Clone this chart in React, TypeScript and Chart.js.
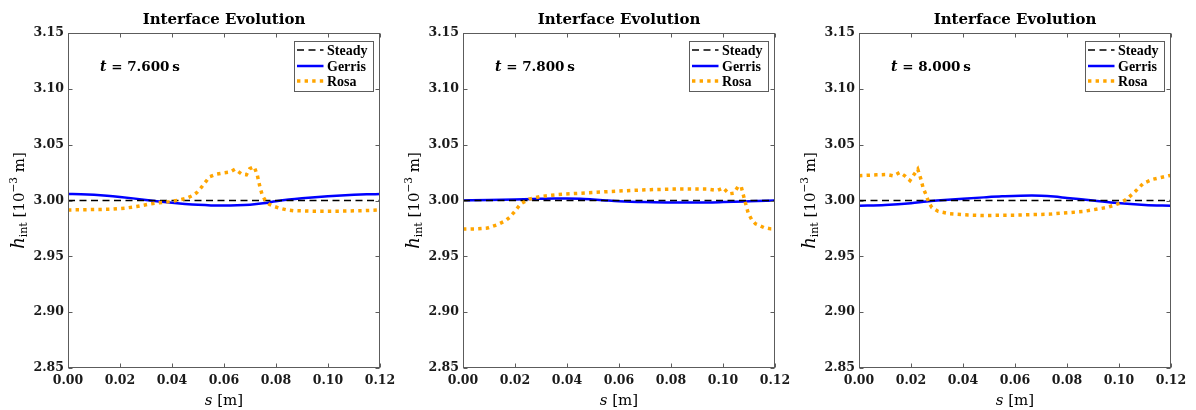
import { useEffect, useRef } from "react";
import { Chart, registerables } from "chart.js";

Chart.register(...registerables);

// ---------- data ----------
const seriesLabels = ["Steady", "Gerris", "Rosa"];
const times = ["7.600", "7.800", "8.000"];
const xTickStep = 0.02;
const yTickStep = 0.05;
const xMin = 0;
const xMax = 0.12;
const yMin = 2.85;
const yMax = 3.15;

const steadyS = [0, 0.12];
const steadyH = [3.0, 3.0];

// t = 7.600 s
const gerrisS1 = [0, 0.005, 0.01, 0.015, 0.02, 0.025, 0.03, 0.035, 0.04, 0.045, 0.05, 0.055, 0.06, 0.065, 0.07, 0.075, 0.08, 0.085, 0.09, 0.095, 0.1, 0.105, 0.11, 0.115, 0.12];
const gerrisH1 = [3.0058, 3.0056, 3.0051, 3.0043, 3.0032, 3.0019, 3.0005, 2.9991, 2.9979, 2.9969, 2.9961, 2.9956, 2.9955, 2.9957, 2.9963, 2.9975, 2.9993, 3.0008, 3.002, 3.003, 3.0038, 3.0045, 3.0051, 3.0055, 3.0058];
const rosaS1 = [0, 0.008, 0.016, 0.022, 0.0264, 0.0315, 0.035, 0.039, 0.0425, 0.0456, 0.048, 0.0495, 0.0512, 0.0527, 0.0545, 0.0572, 0.06, 0.0623, 0.0642, 0.0655, 0.0668, 0.0686, 0.0699, 0.0716, 0.0728, 0.0738, 0.0747, 0.0758, 0.0774, 0.0795, 0.0815, 0.084, 0.0867, 0.093, 0.0995, 0.106, 0.113, 0.12];
const rosaH1 = [2.9915, 2.9918, 2.9922, 2.9932, 2.9946, 2.9969, 2.998, 2.999, 3.0003, 3.002, 3.0045, 3.007, 3.0115, 3.016, 3.0213, 3.0237, 3.0248, 3.0255, 3.028, 3.0258, 3.0237, 3.023, 3.0285, 3.0303, 3.0228, 3.0124, 3.0049, 3.0004, 2.9966, 2.9945, 2.993, 2.9917, 2.9909, 2.9905, 2.9903, 2.9905, 2.9909, 2.9915];

// t = 7.800 s
const gerrisS2 = [0, 0.01, 0.02, 0.03, 0.035, 0.04, 0.045, 0.05, 0.055, 0.06, 0.07, 0.08, 0.09, 0.1, 0.11, 0.12];
const gerrisH2 = [3.0, 3.0004, 3.0009, 3.0015, 3.0018, 3.0019, 3.0016, 3.0009, 3.0001, 2.9994, 2.9986, 2.9982, 2.9982, 2.9986, 2.9993, 3.0001];
const rosaS2 = [0, 0.005, 0.0094, 0.0131, 0.0164, 0.018, 0.0196, 0.021, 0.0222, 0.0254, 0.0299, 0.034, 0.0388, 0.045, 0.0504, 0.057, 0.0645, 0.072, 0.0799, 0.087, 0.094, 0.0978, 0.1001, 0.1023, 0.1042, 0.1058, 0.107, 0.1083, 0.1097, 0.111, 0.1125, 0.1157, 0.1183, 0.12];
const rosaH2 = [2.9744, 2.9746, 2.9753, 2.9782, 2.982, 2.985, 2.9893, 2.9935, 2.997, 3.0012, 3.0036, 3.0048, 3.0057, 3.0065, 3.0072, 3.0081, 3.009, 3.0097, 3.0102, 3.0103, 3.0102, 3.009, 3.0112, 3.006, 3.0066, 3.0125, 3.0125, 3.0006, 2.9887, 2.983, 2.9791, 2.9758, 2.9746, 2.9744];

// t = 8.000 s
const gerrisS3 = [0, 0.01, 0.02, 0.026, 0.03, 0.04, 0.048, 0.055, 0.0665, 0.07, 0.075, 0.08, 0.09, 0.0992, 0.11, 0.12];
const gerrisH3 = [2.9953, 2.996, 2.9976, 2.9991, 2.9999, 3.0016, 3.0028, 3.0037, 3.0045, 3.0043, 3.0035, 3.0023, 3.0, 2.9977, 2.996, 2.9953];
const rosaS3 = [0, 0.0067, 0.0105, 0.0132, 0.0157, 0.0176, 0.0196, 0.0211, 0.0226, 0.0237, 0.0247, 0.0258, 0.0267, 0.028, 0.0305, 0.035, 0.042, 0.0478, 0.0607, 0.0735, 0.0863, 0.0953, 0.1004, 0.103, 0.1062, 0.1094, 0.1132, 0.119, 0.12];
const rosaH3 = [3.0222, 3.023, 3.0233, 3.0221, 3.0251, 3.0221, 3.0179, 3.023, 3.0281, 3.02, 3.011, 3.0051, 2.9991, 2.9937, 2.9902, 2.9881, 2.987, 2.9866, 2.9869, 2.9878, 2.9902, 2.9937, 2.9976, 3.0012, 3.008, 3.0155, 3.0191, 3.0221, 3.0223];

const gerrisS = [gerrisS1, gerrisS2, gerrisS3];
const gerrisH = [gerrisH1, gerrisH2, gerrisH3];
const rosaS = [rosaS1, rosaS2, rosaS3];
const rosaH = [rosaH1, rosaH2, rosaH3];

// ---------- layout / style ----------
const CANVAS_W = 400;
const CANVAS_H = 410;
const CANVAS_LEFTS = [8, 403, 799];
const AREA_LEFT = 60;
const AREA_TOP = 33;
const AREA_RIGHT_PAD = 28;
const X_AXIS_H = 42;
const SERIF = '"DejaVu Serif", serif';
const LEG_SERIF = '"Liberation Serif", serif';
const TEXT = "#1a1a1a";
const FRAME = "#5c5c5c";

const xy = (s: number[], h: number[]) => s.map((v, i) => ({ x: v, y: h[i] }));

function drawRuns(ctx: CanvasRenderingContext2D, runs: { t: string; f: string; dy: number }[], x: number, y: number, align: "left" | "center") {
  let total = 0;
  for (const r of runs) {
    ctx.font = r.f;
    total += ctx.measureText(r.t).width;
  }
  let cx = align === "center" ? x - total / 2 : x;
  ctx.textAlign = "left";
  ctx.textBaseline = "alphabetic";
  for (const r of runs) {
    ctx.font = r.f;
    ctx.fillText(r.t, cx, y + r.dy);
    cx += ctx.measureText(r.t).width;
  }
}

const framePlugin = {
  id: "frame",
  afterDraw(chart: any, _args: any, opts: any) {
    const ctx: CanvasRenderingContext2D = chart.ctx;
    const a = chart.chartArea;
    const xs = chart.scales.x;
    const ys = chart.scales.y;
    const L = Math.round(a.left) + 0.5;
    const R = Math.round(a.right) - 0.5;
    const T = Math.round(a.top) + 0.5;
    const B = Math.round(a.bottom) - 0.5;
    ctx.save();
    // frame
    ctx.strokeStyle = FRAME;
    ctx.lineWidth = 1;
    ctx.setLineDash([]);
    ctx.strokeRect(L, T, R - L, B - T);
    const tl = 4;
    ctx.beginPath();
    for (const tk of xs.ticks) {
      const px = Math.round(xs.getPixelForValue(tk.value)) + 0.5;
      ctx.moveTo(px, B);
      ctx.lineTo(px, B - tl);
      ctx.moveTo(px, T);
      ctx.lineTo(px, T + tl);
    }
    for (const tk of ys.ticks) {
      const py = Math.round(ys.getPixelForValue(tk.value)) + 0.5;
      ctx.moveTo(L, py);
      ctx.lineTo(L + tl, py);
      ctx.moveTo(R, py);
      ctx.lineTo(R - tl, py);
    }
    ctx.stroke();

    const cxA = (a.left + a.right) / 2;
    ctx.fillStyle = "#000";
    // title
    ctx.font = `bold 15px ${SERIF}`;
    ctx.textAlign = "center";
    ctx.textBaseline = "alphabetic";
    ctx.fillText("Interface Evolution", cxA, 24);

    // time annotation
    drawRuns(
      ctx,
      [
        { t: "t", f: `italic bold 14px ${SERIF}`, dy: 0 },
        { t: " = " + opts.time, f: `bold 13.5px ${SERIF}`, dy: 0 },
        { t: "\u2009s", f: `bold 13.5px ${SERIF}`, dy: 0 },
      ],
      a.left + 32,
      71,
      "left"
    );

    // x label
    drawRuns(
      ctx,
      [
        { t: "s", f: `italic 15px ${SERIF}`, dy: 0 },
        { t: " [m]", f: `15px ${SERIF}`, dy: 0 },
      ],
      cxA,
      405,
      "center"
    );

    // y label (rotated)
    ctx.save();
    ctx.translate(a.left - 44.5, (a.top + a.bottom) / 2);
    ctx.rotate(-Math.PI / 2);
    drawRuns(
      ctx,
      [
        { t: "h", f: `italic 18px ${SERIF}`, dy: 0 },
        { t: "int", f: `11px ${SERIF}`, dy: 3.5 },
        { t: " [10", f: `15px ${SERIF}`, dy: 0 },
        { t: "\u22123", f: `10.5px ${SERIF}`, dy: -6.5 },
        { t: " m]", f: `15px ${SERIF}`, dy: 0 },
      ],
      0,
      0,
      "center"
    );
    ctx.restore();

    // legend
    const bw = 79;
    const bh = 50;
    const bx = Math.round(a.right) - 86 + 0.5;
    const by = Math.round(a.top) + 8 + 0.5;
    ctx.fillStyle = "#fff";
    ctx.fillRect(bx, by, bw, bh);
    ctx.strokeStyle = FRAME;
    ctx.lineWidth = 1;
    ctx.strokeRect(bx, by, bw, bh);
    const rows = [8.3, 24, 39.7];
    chart.data.datasets.forEach((ds: any, i: number) => {
      const ry = Math.round(by + rows[i]);
      ctx.save();
      ctx.strokeStyle = ds.borderColor;
      ctx.lineWidth = ds.borderWidth;
      ctx.setLineDash(ds.borderDash || []);
      ctx.lineCap = "butt";
      ctx.beginPath();
      ctx.moveTo(bx + 2.5, ry);
      ctx.lineTo(bx + 29, ry);
      ctx.stroke();
      ctx.restore();
      ctx.fillStyle = "#000";
      ctx.font = `bold 14px ${LEG_SERIF}`;
      ctx.textAlign = "left";
      ctx.textBaseline = "alphabetic";
      ctx.fillText(ds.label, bx + 32.5, ry + 4.5);
    });
    ctx.restore();
  },
};

function makeConfig(i: number): any {
  const tickFont = { family: SERIF, weight: "bold", size: 12.5 };
  return {
    type: "line",
    data: {
      datasets: [
        {
          label: seriesLabels[0],
          data: xy(steadyS, steadyH),
          borderColor: "#000000",
          borderWidth: 1.6,
          borderDash: [7, 4.5],
          pointRadius: 0,
          order: 1,
        },
        {
          label: seriesLabels[1],
          data: xy(gerrisS[i], gerrisH[i]),
          borderColor: "#0000ff",
          borderWidth: 2.5,
          pointRadius: 0,
          cubicInterpolationMode: "monotone",
          order: 2,
        },
        {
          label: seriesLabels[2],
          data: xy(rosaS[i], rosaH[i]),
          borderColor: "#ffa500",
          borderWidth: 3.5,
          borderDash: [3.4, 4.2],
          borderCapStyle: "butt",
          pointRadius: 0,
          order: 0,
        },
      ],
    },
    options: {
      animation: false,
      responsive: false,
      devicePixelRatio: 1,
      layout: { padding: { left: 0, right: AREA_RIGHT_PAD, top: AREA_TOP, bottom: 0 } },
      plugins: {
        legend: { display: false },
        title: { display: false },
        tooltip: { enabled: false },
        frame: { time: times[i] },
      },
      scales: {
        x: {
          type: "linear",
          min: xMin,
          max: xMax,
          ticks: {
            stepSize: xTickStep,
            autoSkip: false,
            maxRotation: 0,
            padding: 5,
            color: TEXT,
            font: tickFont,
            callback: (v: number) => Number(v).toFixed(2),
          },
          grid: { display: false, drawTicks: false },
          border: { display: false },
          afterFit: (s: any) => {
            s.height = X_AXIS_H;
          },
        },
        y: {
          type: "linear",
          min: yMin,
          max: yMax,
          ticks: {
            stepSize: yTickStep,
            autoSkip: false,
            padding: 4,
            color: TEXT,
            font: tickFont,
            callback: (v: number) => Number(v).toFixed(2),
          },
          grid: { display: false, drawTicks: false },
          border: { display: false },
          afterFit: (s: any) => {
            s.width = AREA_LEFT;
          },
        },
      },
    },
    plugins: [framePlugin],
  };
}

export default function App() {
  const r0 = useRef<HTMLCanvasElement>(null);
  const r1 = useRef<HTMLCanvasElement>(null);
  const r2 = useRef<HTMLCanvasElement>(null);
  const refs = [r0, r1, r2];

  useEffect(() => {
    const charts = refs.map((r, i) => new Chart(r.current as HTMLCanvasElement, makeConfig(i)));
    return () => charts.forEach((c) => c.destroy());
  }, []);

  return (
    <div style={{ position: "absolute", left: 0, top: 0, width: 1196, height: 410, background: "#fff" }}>
      {refs.map((r, i) => (
        <canvas
          key={i}
          ref={r}
          width={CANVAS_W}
          height={CANVAS_H}
          style={{ position: "absolute", left: CANVAS_LEFTS[i], top: 0, width: CANVAS_W, height: CANVAS_H }}
        />
      ))}
    </div>
  );
}
